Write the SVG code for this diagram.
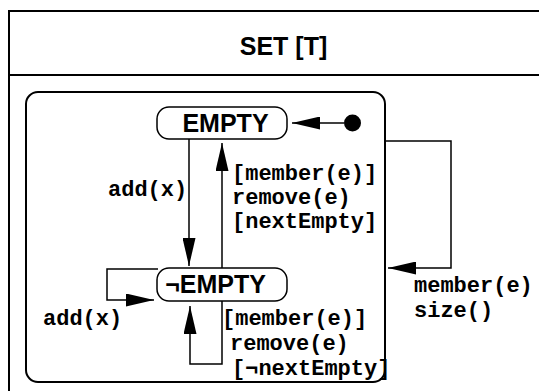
<svg xmlns="http://www.w3.org/2000/svg" width="539" height="391" viewBox="0 0 539 391">
<style>
.frame{fill:none;stroke:#000;stroke-width:2}
.state{fill:#fff;stroke:#000;stroke-width:1.5}
.conn{fill:none;stroke:#000;stroke-width:1.5}
.title{font-family:"Liberation Sans",Arial,sans-serif;font-weight:bold;font-size:25px;fill:#000}
.lbl{font-family:"Liberation Mono","Courier New",monospace;font-weight:bold;font-size:22px;fill:#000}
</style>
<defs>
<marker id="ah" markerUnits="userSpaceOnUse" markerWidth="28" markerHeight="13" refX="28" refY="6.5" orient="auto">
<path d="M0,0 L28,6.5 L0,13 z" fill="#000"/>
</marker>
</defs>
<rect width="539" height="391" fill="#fff"/>
<g id="set-frame">
<path class="frame" d="M9,392 V11 H541"/>
<path class="frame" d="M9,75 H541"/>
<text class="title" x="283.5" y="55" text-anchor="middle">SET [T]</text>
</g>
<g id="composite">
<rect class="frame" x="26" y="92" width="359" height="290" rx="12" ry="12"/>
</g>
<g id="connectors">
<line class="conn" x1="344" y1="123" x2="292" y2="123" marker-end="url(#ah)"/>
<path class="conn" d="M189,139 V266" marker-end="url(#ah)"/>
<path class="conn" d="M222,268 V143" marker-end="url(#ah)"/>
<path class="conn" d="M158,269 H107 V300 H154" marker-end="url(#ah)"/>
<path class="conn" d="M222,301 V364 H190 V306" marker-end="url(#ah)"/>
<path class="conn" d="M385,141 H451 V268 H388" marker-end="url(#ah)"/>
</g>
<g id="initial">
<circle cx="352.5" cy="123" r="8.5" fill="#000"/>
</g>
<g id="empty">
<rect class="state" x="157" y="107" width="130" height="32" rx="12" ry="12"/>
<text class="title" x="225.5" y="132" text-anchor="middle">EMPTY</text>
</g>
<g id="not-empty">
<rect class="state" x="157" y="268" width="130" height="33" rx="12" ry="12"/>
<text class="title" x="215.5" y="293" text-anchor="middle">¬EMPTY</text>
</g>
<g id="labels">
<text class="lbl" x="108" y="196">add(x)</text>
<text class="lbl" x="232" y="180">[member(e)]</text>
<text class="lbl" x="232" y="204">remove(e)</text>
<text class="lbl" x="232" y="228">[nextEmpty]</text>
<text class="lbl" x="43" y="325">add(x)</text>
<text class="lbl" x="222" y="325">[member(e)]</text>
<text class="lbl" x="230" y="350">remove(e)</text>
<text class="lbl" x="232" y="375">[¬nextEmpty]</text>
<text class="lbl" x="414" y="292">member(e)</text>
<text class="lbl" x="414" y="317">size()</text>
</g>
</svg>
